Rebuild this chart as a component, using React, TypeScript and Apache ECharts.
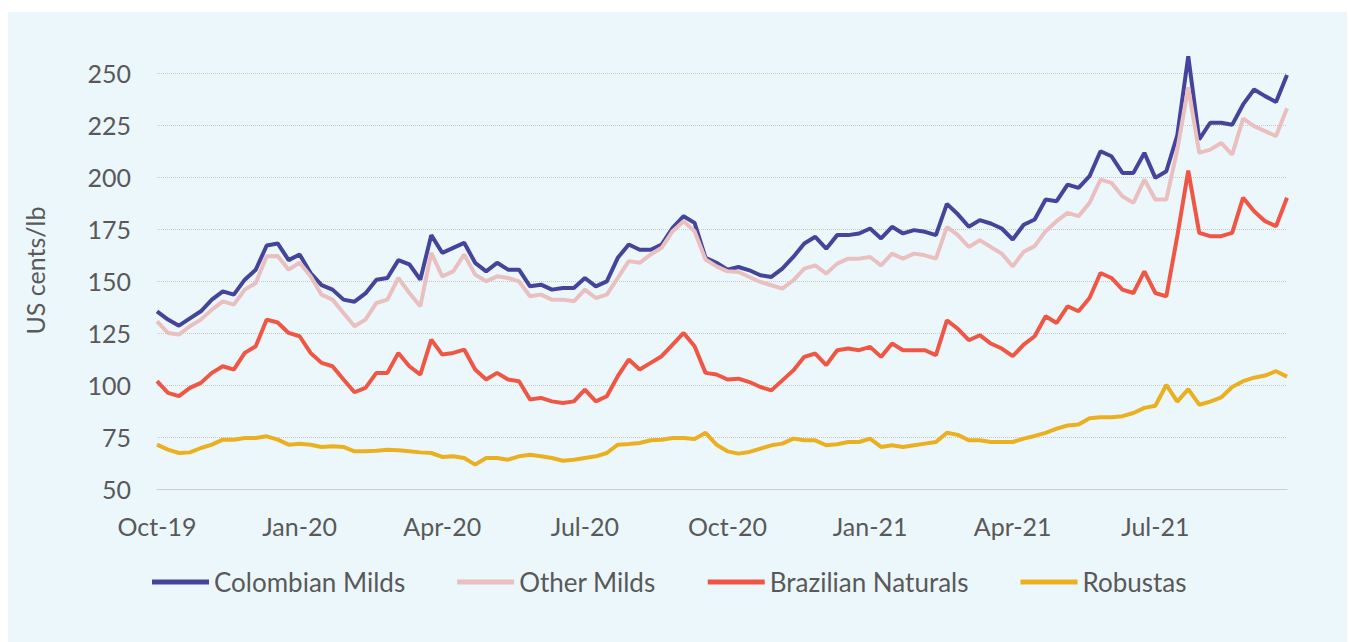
import React, { useEffect, useRef } from 'react';
import * as echarts from 'echarts';

// Quarter tick labels (one every 13 weekly points)
const tickLabels = ['Oct-19', 'Jan-20', 'Apr-20', 'Jul-20', 'Oct-20', 'Jan-21', 'Apr-21', 'Jul-21'];
const weeksPerTick = 13;

// Weekly ICO indicator prices, US cents/lb (Oct 2019 – Sep 2021)
const colombianMilds = [
  135.4, 131.4, 128.5, 132, 135.4, 141, 145, 143.4, 150.6, 155.4, 167, 168, 160,
  162.7, 153.8, 148, 145.8, 141, 140, 144, 150.6, 151.4, 160, 158, 150.6, 172,
  163.5, 165.9, 168.3, 158.7, 154.6, 158.7, 155.4, 155.4, 147.4, 148.2, 145.8, 146.6, 146.6,
  151.4, 147.4, 149.8, 161.1, 167.5, 165, 165, 167.5, 175.5, 181.1, 177.9, 161.1, 158.7,
  155.4, 156.7, 155.1, 152.7, 151.9, 155.9, 161.5, 168, 171.2, 165.5, 172, 172, 172.8,
  175.2, 170.4, 176, 172.8, 174.4, 173.6, 172, 187, 182, 176, 179.2, 177.6, 175.2,
  169.9, 177, 179.5, 189.1, 188.3, 196.3, 194.7, 200.3, 212.3, 209.9, 201.9, 201.9, 211.5,
  199.5, 202.7, 220, 258, 218, 226, 226, 225, 234.8, 242, 238.8, 236, 249,
];
const otherMilds = [
  130.6, 125, 124.2, 128.2, 131.4, 136.2, 140.2, 138.6, 145.8, 149, 161.9, 162, 155.4,
  158.7, 152.2, 143.4, 141, 134.6, 128.2, 131.4, 139.4, 141, 151.4, 144.2, 137.8, 163.5,
  152.2, 154.6, 162.7, 153, 149.8, 152.2, 151.4, 149.8, 142.6, 143.4, 141, 141, 140.2,
  145.8, 141.8, 143.4, 151.4, 159.5, 158.7, 162.7, 165.9, 173.9, 178.7, 173.9, 160.3, 157,
  154.6, 154.3, 151.9, 149.5, 147.9, 146.3, 150.3, 155.9, 157.5, 153.5, 158.3, 160.7, 160.7,
  161.5, 157.5, 163.1, 160.7, 163.1, 162.3, 160.7, 176, 172, 166.3, 169.6, 166.3, 163.1,
  157, 164, 166.7, 173.9, 178.7, 182.7, 181.1, 187.5, 198.7, 197.1, 190.7, 187.5, 198.7,
  189.1, 189.1, 213, 243, 211.5, 213.1, 216.3, 210.7, 228, 224.4, 222, 219.6, 233,
];
const brazilianNaturals = [
  101.8, 96.2, 94.6, 98.6, 101, 105.8, 109, 107.4, 115.4, 118.6, 131.4, 130, 125,
  123.4, 115.4, 110.6, 109, 102.6, 96.5, 98.6, 105.8, 105.8, 115.4, 109, 105, 121.8,
  114.6, 115.4, 117, 107.4, 102.6, 105.8, 102.6, 101.8, 93, 93.8, 92.1, 91.3, 92.1,
  97.8, 92.1, 94.6, 104.2, 112.2, 107.4, 110.6, 113.8, 119.4, 125, 118.6, 105.8, 105,
  102.6, 103, 101.4, 99, 97.4, 102.2, 107, 113.5, 115.1, 109.5, 116.7, 117.5, 116.7,
  118.3, 113.5, 119.9, 116.7, 116.7, 116.7, 114.3, 131, 127, 121.5, 123.9, 119.9, 117.5,
  113.8, 119.4, 123.4, 133, 129.8, 137.8, 135.4, 141.8, 153.8, 151.4, 145.8, 144.2, 154.6,
  144.2, 142.6, 171.5, 203, 173.1, 171.5, 171.5, 173.1, 190, 183.5, 178.7, 176.3, 190,
];
const robustas = [
  71.3, 68.9, 67.3, 67.6, 69.7, 71.3, 73.7, 73.7, 74.5, 74.5, 75.3, 73.7, 71.3,
  71.8, 71.3, 70.2, 70.5, 70.2, 68.1, 68.1, 68.4, 68.9, 68.6, 68.1, 67.6, 67.3,
  65.4, 65.7, 64.9, 61.7, 64.9, 64.9, 64.1, 65.7, 66.5, 65.7, 64.9, 63.6, 64.1,
  64.9, 65.7, 67.3, 71.3, 71.6, 72.1, 73.4, 73.7, 74.5, 74.5, 74, 77, 71.3,
  68.1, 67, 67.8, 69.4, 71, 71.8, 74.2, 73.4, 73.4, 71, 71.5, 72.6, 72.6,
  74.2, 70.2, 71, 70.2, 71, 71.8, 72.6, 77, 76, 73.4, 73.4, 72.6, 72.6,
  72.6, 74.2, 75.5, 77, 79, 80.5, 81, 84, 84.5, 84.5, 85, 86.5, 89,
  90, 100, 92, 98, 90.5, 92, 94, 99, 101.8, 103.5, 104.5, 106.6, 104,
];

const seriesNames = ['Colombian Milds', 'Other Milds', 'Brazilian Naturals', 'Robustas'];
const seriesColors = ['#45449b', '#e9c0bf', '#ef5744', '#ebb020'];
const seriesData = [colombianMilds, otherMilds, brazilianNaturals, robustas];

const weekCategories = colombianMilds.map((_, i) => `W${i + 1}`);

const FONT = 'Lato, "Open Sans", sans-serif';
const TEXT = '#595959';

export default function App() {
  const ref = useRef<HTMLDivElement>(null);

  useEffect(() => {
    document.body.style.margin = '0';
    const chart = echarts.init(ref.current!, null, { renderer: 'svg' });
    chart.setOption({
      animation: false,
      backgroundColor: '#ffffff',
      textStyle: { fontFamily: FONT },
      graphic: [
        {
          type: 'rect',
          z: -10,
          silent: true,
          shape: { x: 8, y: 12, width: 1339, height: 630 },
          style: { fill: '#ecf7fc' },
        },
      ],
      grid: { left: 157, top: 52, width: 1130, height: 437, containLabel: false },
      legend: {
        left: 147,
        top: 564,
        icon: 'rect',
        itemWidth: 57,
        itemHeight: 5,
        itemGap: 52,
        textStyle: { fontSize: 26, color: TEXT, fontFamily: FONT },
        data: seriesNames,
      },
      xAxis: {
        type: 'category',
        data: weekCategories,
        boundaryGap: false,
        axisLine: { lineStyle: { color: '#cfcfcf', width: 1 } },
        axisTick: { show: false },
        axisLabel: {
          interval: weeksPerTick - 1,
          formatter: (_v: string, i: number) => tickLabels[Math.round(i / weeksPerTick)] ?? '',
          fontSize: 25,
          color: TEXT,
          fontFamily: FONT,
          margin: 24,
        },
        splitLine: { show: false },
      },
      yAxis: {
        type: 'value',
        min: 50,
        max: 260,
        interval: 25,
        name: 'US cents/lb',
        nameLocation: 'middle',
        nameGap: 110,
        nameTextStyle: { fontSize: 25, color: TEXT, fontFamily: FONT },
        axisLine: { show: false },
        axisTick: { show: false },
        axisLabel: {
          fontSize: 25,
          color: TEXT,
          fontFamily: FONT,
          margin: 26,
          showMaxLabel: false,
        },
        splitLine: {
          show: true,
          showMaxLine: false,
          showMinLine: false,
          lineStyle: { type: 'dotted', color: '#c9c9c9', width: 1 },
        },
      },
      series: seriesNames.map((name, k) => ({
        name,
        type: 'line',
        data: seriesData[k],
        showSymbol: false,
        symbol: 'none',
        color: seriesColors[k],
        lineStyle: { width: 4, color: seriesColors[k] },
      })),
    });
    return () => chart.dispose();
  }, []);

  return <div ref={ref} style={{ width: 1349, height: 642 }} />;
}
